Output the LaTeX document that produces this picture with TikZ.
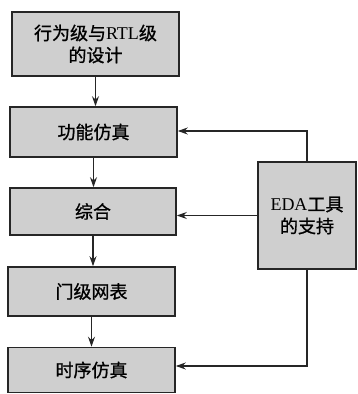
\documentclass[tikz,border=0pt]{standalone}
\usepackage{fontspec}
\setmainfont{Liberation Serif}
\newfontfamily\cjk[FakeBold=1]{Noto Sans CJK SC}
\usetikzlibrary{arrows.meta}
\begin{document}
\begin{tikzpicture}[x=1pt,y=-1pt,
  box/.style={draw=black!85, line width=1.6pt, fill=black!19, align=center, font=\fontsize{18}{22}\selectfont, inner sep=0pt},
  conn/.style={draw=black!85, line width=1.2pt, -{Stealth[length=10pt,width=7pt]}}]
\useasboundingbox (0,0) rectangle (357,394);
\node[box, minimum width=167pt, minimum height=64pt] (b1) at (95.5,44) {{\cjk 行为级与}RTL{\cjk 级}\\{\cjk 的设计}};
\node[box, minimum width=167pt, minimum height=50pt] (b2) at (93.5,132) {\cjk 功能仿真};
\node[box, minimum width=166pt, minimum height=47pt] (b3) at (93,211.5) {\cjk 综合};
\node[box, minimum width=167pt, minimum height=49pt] (b4) at (91.5,291.5) {\cjk 门级网表};
\node[box, minimum width=167pt, minimum height=45pt] (b5) at (91.5,370) {\cjk 时序仿真};
\node[box, minimum width=98pt, minimum height=107pt] (eda) at (307,215.5) {EDA{\cjk 工具}\\{\cjk 的支持}};
\draw[conn] (b1.south) -- (b1.south |- b2.north);
\draw[conn] (b2.south) -- (b2.south |- b3.north);
\draw[conn] (b3.south) -- (b3.south |- b4.north);
\draw[conn] (b4.south) -- (b4.south |- b5.north);
\draw[conn] (eda.north) |- ([yshift=1pt]b2.east);
\draw[conn] (eda.west) -- (eda.west -| b3.east);
\draw[conn] (eda.south) |- ([yshift=4pt]b5.east);
\end{tikzpicture}
\end{document}
